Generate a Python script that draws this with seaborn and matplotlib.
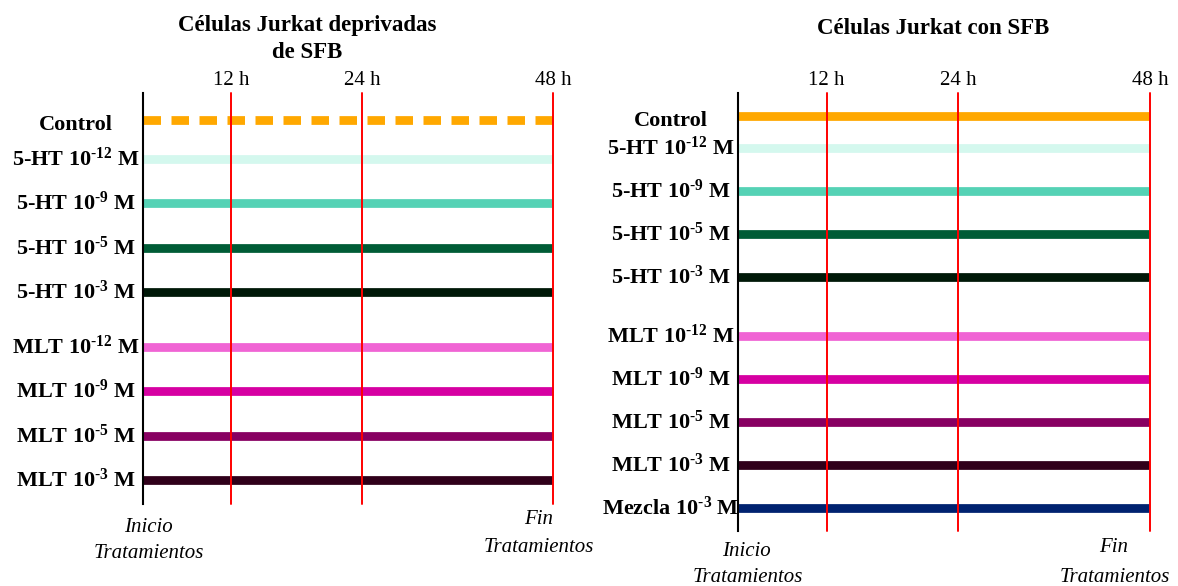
import numpy as np
import pandas as pd
import matplotlib
matplotlib.use("Agg")
import matplotlib.pyplot as plt
import seaborn as sns

# ---------------- data ----------------
hours_marks = [12, 24, 48]
hour_labels = ["12 h", "24 h", "48 h"]
# non-uniform drawing scale of the time axis (fraction of axis width)
scale_hours = [0, 12, 24, 48]
scale_frac = [0.0, 0.215, 0.535, 1.0]

left_treatments = ["Control", "5-HT -12", "5-HT -9", "5-HT -5", "5-HT -3",
                   "MLT -12", "MLT -9", "MLT -5", "MLT -3"]
left_groups = [0, 1, 1, 1, 1, 2, 2, 2, 2]
right_treatments = ["Control", "5-HT -12", "5-HT -9", "5-HT -5", "5-HT -3",
                    "MLT -12", "MLT -9", "MLT -5", "MLT -3", "Mezcla -3"]
right_groups = [0, 1, 1, 1, 1, 2, 2, 2, 2, 2]

HY = "\u2010"
labels = {
    "Control": "Control",
    "5-HT -12": r"5-HT 10$^{\mathbf{" + HY + r"12}}$ M",
    "5-HT -9": r"5-HT 10$^{\mathbf{" + HY + r"9}}$ M",
    "5-HT -5": r"5-HT 10$^{\mathbf{" + HY + r"5}}$ M",
    "5-HT -3": r"5-HT 10$^{\mathbf{" + HY + r"3}}$ M",
    "MLT -12": r"MLT 10$^{\mathbf{" + HY + r"12}}$ M",
    "MLT -9": r"MLT 10$^{\mathbf{" + HY + r"9}}$ M",
    "MLT -5": r"MLT 10$^{\mathbf{" + HY + r"5}}$ M",
    "MLT -3": r"MLT 10$^{\mathbf{" + HY + r"3}}$ M",
    "Mezcla -3": r"Mezcla 10$^{\mathbf{" + HY + r"3}}$ M",
}
colors = {
    "Control": "#FFA800",
    "5-HT -12": "#D4F8EE",
    "5-HT -9": "#55D2B5",
    "5-HT -5": "#005C36",
    "5-HT -3": "#001808",
    "MLT -12": "#F064D4",
    "MLT -9": "#D600A2",
    "MLT -5": "#880062",
    "MLT -3": "#30001A",
    "Mezcla -3": "#002270",
}
start_h = 0
end_h = 48

titles = ["Células Jurkat deprivadas\nde SFB", "Células Jurkat con SFB"]

# ---------------- style ----------------
sns.set_style("white")
plt.rcParams["font.family"] = ["Liberation Serif", "DejaVu Serif"]
plt.rcParams["mathtext.fontset"] = "custom"
plt.rcParams["mathtext.rm"] = "Liberation Serif"
plt.rcParams["mathtext.bf"] = "Liberation Serif:bold"
plt.rcParams["mathtext.it"] = "Liberation Serif:italic"
plt.rcParams["text.color"] = "black"
plt.rcParams["xtick.color"] = "black"
plt.rcParams["xtick.labelcolor"] = "black"

W, H = 1178, 586
fig = plt.figure(figsize=(W / 100, H / 100), dpi=100)


def fx(px):
    return px / W


def fy(py):
    return 1 - py / H


def fwd(x):
    return np.interp(x, scale_hours, scale_frac)


def inv(y):
    return np.interp(y, scale_frac, scale_hours)


def panel(rect, treatments, groups, gap1, gap2, dashed_control, ylim):
    ax = fig.add_axes(rect)
    pos = [i + gap1 * (g >= 1) + gap2 * (g == 2) for i, g in enumerate(groups)]
    df = pd.DataFrame({
        "treatment": np.repeat(treatments, 2),
        "hours": [start_h, end_h] * len(treatments),
        "pos": np.repeat(pos, 2),
    })
    dashes = {t: "" for t in treatments}
    if dashed_control:
        dashes["Control"] = (2.0, 1.2)
    sns.lineplot(data=df, x="hours", y="pos", hue="treatment", style="treatment",
                 palette={t: colors[t] for t in treatments}, dashes=dashes,
                 estimator=None, sort=False, linewidth=6.3, legend=False, ax=ax,
                 solid_capstyle="butt", dash_capstyle="butt", zorder=2)
    for h in hours_marks:
        ax.axvline(h, color="#FF0000", lw=1.4, zorder=4, clip_on=False)
    ax.set_xscale("function", functions=(fwd, inv))
    ax.set_xlim(start_h, end_h)
    ax.set_ylim(*ylim)
    ax.set_xticks(hours_marks)
    ax.set_xticklabels(hour_labels, fontsize=15, color="black")
    ax.xaxis.tick_top()
    ax.tick_params(axis="x", length=0, pad=2)
    ax.set_yticks([])
    ax.set_xlabel("")
    ax.set_ylabel("")
    for s in ["top", "right", "bottom"]:
        ax.spines[s].set_visible(False)
    ax.spines["left"].set_color("black")
    ax.spines["left"].set_linewidth(1.5)
    ax.spines["left"].set_zorder(5)
    ax.set_facecolor("none")
    trans = matplotlib.transforms.blended_transform_factory(ax.transAxes, ax.transData)
    for t, p in zip(treatments, pos):
        off = 0.12 if t == "Control" else 0.0
        ax.text(-0.163, p + off, labels[t], transform=trans, ha="center", va="center",
                fontsize=16, fontweight="bold", clip_on=False, color="black")
    return ax


# left panel
axL = panel([fx(143), fy(504), fx(553 - 143), (504 - 93) / H],
            left_treatments, left_groups, -0.124, 0.225, True,
            ((504 - 120) / 44.5, -(120 - 93) / 44.5))
# right panel
axR = panel([fx(738), fy(531), fx(1150 - 738), (531 - 93) / H],
            right_treatments, right_groups, -0.256, 0.372, False,
            ((531 - 116) / 43.0, -(116 - 93) / 43.0))

fig.text(fx(307), fy(39), titles[0], ha="center", va="center", fontsize=16.5,
         fontweight="bold", linespacing=1.4)
fig.text(fx(933), fy(28), titles[1], ha="center", va="center", fontsize=16.5,
         fontweight="bold")

for x, y, s in [(148, 527, "Inicio"), (149, 553, "Tratamientos"),
                (539, 519, "Fin"), (539, 548, "Tratamientos"),
                (746, 551, "Inicio"), (748, 578, "Tratamientos"),
                (1114, 548, "Fin"), (1115, 577, "Tratamientos")]:
    fig.text(fx(x), fy(y), s, ha="center", va="center", fontsize=15, style="italic")

fig.savefig("out.png", dpi=100)
